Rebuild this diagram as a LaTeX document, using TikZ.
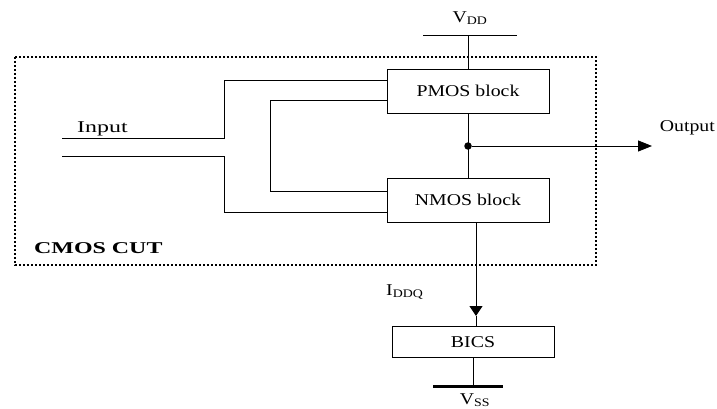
\documentclass[tikz,border=0pt]{standalone}
\usepackage{fontspec}
\setmainfont{Liberation Serif}[FakeStretch=1.2]
\newfontfamily\widefont{Liberation Serif}[FakeStretch=1.45]
\usetikzlibrary{arrows.meta,positioning}

\begin{document}
\begin{tikzpicture}[x=1pt, y=-1pt,
  block/.style={draw, line width=0.9pt, minimum width=162pt, minimum height=44pt,
    inner sep=0pt, font=\fontsize{16.5}{18}\selectfont},
  wire/.style={line width=0.9pt},
  lbl/.style={inner sep=0pt, font=\widefont\fontsize{16.5}{18}\selectfont},
  dot/.style={circle, fill, inner sep=0pt, minimum size=7.5pt},
  outarrow/.style={wire, -{Triangle[length=14pt,width=11pt]}},
  iddarrow/.style={wire, -{Triangle[length=10pt,width=13pt]}}]
  \useasboundingbox (0,0) rectangle (717,409);

  % ── CUT frame ──────────────────────────────
  \draw[dotted, line width=2pt] (15,57) rectangle (596,265);
  \node[lbl, anchor=west, font=\widefont\bfseries\fontsize{16.5}{18}\selectfont] (cut) at (34,248) {CMOS CUT};

  % ── Blocks ─────────────────────────────────
  \node[block] (pmos) at (468,91) {PMOS block};
  \node[block] (nmos) at (468,200) {NMOS block};
  \node[block, minimum height=31pt] (bics) at (473,342) {BICS};

  % ── Supply ─────────────────────────────────
  \coordinate (vddL) at (423,35);
  \coordinate (vddR) at (517,35);
  \draw[wire] (vddL) -- (vddR);
  \draw[wire] (pmos.north) -- (pmos.north |- vddL);
  \node[inner sep=0pt, font=\fontsize{16.5}{18}\selectfont] (vdd) at (470,18) {V\textsubscript{DD}};

  % ── Inputs ─────────────────────────────────
  \coordinate (in1) at (62,138);
  \coordinate (in2) at (62,156);
  \coordinate (split) at (224,0);
  \coordinate (loop) at (270,0);
  \coordinate (pA) at ([yshift=11pt]pmos.west);
  \coordinate (pB) at ([yshift=-9pt]pmos.west);
  \coordinate (nA) at ([yshift=9pt]nmos.west);
  \coordinate (nB) at ([yshift=-12pt]nmos.west);
  \draw[wire] (in1) -- (in1 -| split) |- (pA);
  \draw[wire] (in2) -- (in2 -| split) |- (nB);
  \draw[wire] (pB) -| (loop |- nA) -- (nA);
  \node[lbl, anchor=west] (input) at (77,129) {Input};

  % ── Output ─────────────────────────────────
  \coordinate (out) at (652,146);
  \draw[wire] (pmos.south) -- (nmos.north);
  \node[dot] (jn) at (pmos.south |- out) {};
  \draw[outarrow] (jn) -- (out);
  \node[lbl, anchor=east, font=\fontsize{16.5}{18}\selectfont] (output) at (715,128) {Output};

  % ── IDDQ path ──────────────────────────────
  \coordinate (idd) at (476,316);
  \draw[iddarrow] (idd |- nmos.south) -- (idd);
  \draw[wire] (idd) -- (idd |- bics.north);
  \node[inner sep=0pt, anchor=west, font=\fontsize{16.5}{18}\selectfont] (iddq) at (386,292) {I\textsubscript{DDQ}};

  % ── Ground ─────────────────────────────────
  \coordinate (gndL) at (433,386);
  \coordinate (gndR) at (503,386);
  \draw[wire] (bics.south) -- (bics.south |- gndL);
  \draw[line width=3pt] (gndL) -- (gndR);
  \node[inner sep=0pt, font=\fontsize{16.5}{18}\selectfont] (vss) at (475,400) {V\textsubscript{SS}};
\end{tikzpicture}
\end{document}
